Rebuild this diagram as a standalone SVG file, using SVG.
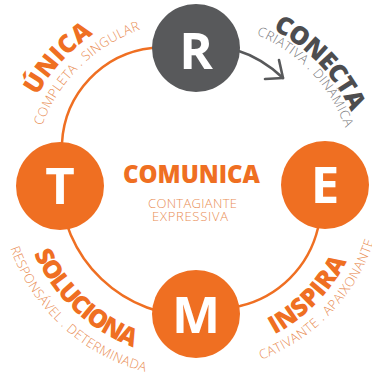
<svg xmlns="http://www.w3.org/2000/svg" width="372" height="372" viewBox="0 0 372 372">
  <style>
    .ring { fill: none; stroke: #EF6F22; stroke-width: 2.5; }
    .arrow { fill: none; stroke: #58595B; stroke-width: 2.6; stroke-linecap: round; stroke-linejoin: round; }
    .dot-o { fill: #EF6F22; }
    .dot-g { fill: #58595B; }
    .letter { font-family: "Open Sans", "Liberation Sans", sans-serif; font-weight: 700; font-size: 51px; fill: #FFFFFF; text-anchor: middle; }
    .head { font-family: "Open Sans", "Liberation Sans", sans-serif; font-weight: 800; font-size: 25px; }
    .sub { font-family: "Open Sans", "Liberation Sans", sans-serif; font-weight: 300; font-size: 13px; }
    .orange { fill: #EF6F22; }
    .light { fill: #E98E55; }
    .dark { fill: #4D4D4F; }
    .grey { fill: #77777A; }
  </style>
  <defs>
    <!-- baseline arcs around (194,183) -->
    <path id="arc-unica" d="M16.03,206.43 A179.5,179.5 0 0 1 201.83,3.67"/>
    <path id="arc-completa" d="M31.98,195.47 A162.5,162.5 0 0 1 209.86,21.28"/>
    <path id="arc-conecta" d="M183.17,10.84 A172.5,172.5 0 0 1 365.43,202.23"/>
    <path id="arc-criativa" d="M183.89,22.32 A161,161 0 0 1 354,200.95"/>
    <path id="arc-soluciona" d="M19.27,173.23 A175,175 0 0 0 214.72,356.77"/>
    <path id="arc-responsavel" d="M-0.81,174.49 A195,195 0 0 0 219.45,376.33"/>
    <path id="arc-inspira" d="M180.24,354.05 A171.6,171.6 0 0 0 364.84,166.85"/>
    <path id="arc-cativante" d="M182.46,371.65 A189,189 0 0 0 381.79,161.61"/>
  </defs>

  <rect width="372" height="372" fill="#FFFFFF"/>

  <g id="connectors">
    <path class="ring" d="M175,47 L152,48 A101,101 0 0 0 62,143 L61,165"/>
    <path class="ring" d="M60,186 A134,134 0 0 0 196,316"/>
    <path class="ring" d="M225,308 L240,306 A105,105 0 0 0 318,228 L322,215"/>
    <path class="arrow" d="M236,50 Q262,58 283,78"/>
    <path class="arrow" d="M279,60 L283,78 L265,79"/>
  </g>

  <g id="node-r">
    <circle class="dot-g" cx="196" cy="48" r="44"/>
    <text class="letter" x="196" y="69">R</text>
  </g>
  <g id="node-t">
    <circle class="dot-o" cx="60" cy="186" r="44"/>
    <text class="letter" x="60" y="204">T</text>
  </g>
  <g id="node-e">
    <circle class="dot-o" cx="325" cy="185" r="44"/>
    <text class="letter" x="325" y="203">E</text>
  </g>
  <g id="node-m">
    <circle class="dot-o" cx="196" cy="314" r="44"/>
    <text class="letter" x="196" y="333">M</text>
  </g>

  <g id="label-unica">
    <text class="head orange" text-anchor="middle"><textPath href="#arc-unica" startOffset="50%" textLength="84" lengthAdjust="spacing">ÚNICA</textPath></text>
    <text class="sub light" text-anchor="middle"><textPath href="#arc-completa" startOffset="50%" textLength="142" lengthAdjust="spacing">COMPLETA . SINGULAR</textPath></text>
  </g>
  <g id="label-conecta">
    <text class="head dark" text-anchor="middle"><textPath href="#arc-conecta" startOffset="50%" textLength="116" lengthAdjust="spacing">CONECTA</textPath></text>
    <text class="sub grey" text-anchor="middle"><textPath href="#arc-criativa" startOffset="50%" textLength="132" lengthAdjust="spacing">CRIATIVA . DINÂMICA</textPath></text>
  </g>
  <g id="label-soluciona">
    <text class="head orange" text-anchor="middle"><textPath href="#arc-soluciona" startOffset="50%" textLength="140" lengthAdjust="spacing">SOLUCIONA</textPath></text>
    <text class="sub light" text-anchor="middle"><textPath href="#arc-responsavel" startOffset="50%" textLength="190" lengthAdjust="spacing">RESPONSÁVEL . DETERMINADA</textPath></text>
  </g>
  <g id="label-inspira">
    <text class="head orange" text-anchor="middle"><textPath href="#arc-inspira" startOffset="50%" textLength="104" lengthAdjust="spacing">INSPIRA</textPath></text>
    <text class="sub light" text-anchor="middle"><textPath href="#arc-cativante" startOffset="50%" textLength="169" lengthAdjust="spacing">CATIVANTE . APAIXONANTE</textPath></text>
  </g>
  <g id="label-comunica">
    <text class="head orange" x="191.5" y="183" font-size="22" text-anchor="middle" textLength="137" lengthAdjust="spacingAndGlyphs">COMUNICA</text>
    <text class="sub light" x="192.5" y="208" font-size="13.5" text-anchor="middle" textLength="89" lengthAdjust="spacing">CONTAGIANTE</text>
    <text class="sub light" x="190" y="221" font-size="13.5" text-anchor="middle" textLength="76" lengthAdjust="spacing">EXPRESSIVA</text>
  </g>
</svg>
